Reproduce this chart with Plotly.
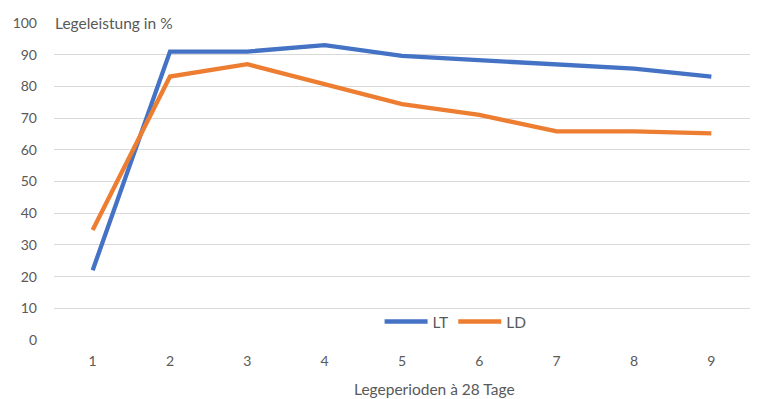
import plotly.graph_objects as go

perioden = [1, 2, 3, 4, 5, 6, 7, 8, 9]
lt_werte = [22, 91, 91, 93, 89.6, 88.3, 87, 85.6, 83.1]
ld_werte = [34.7, 83.1, 87, 80.6, 74.4, 71, 65.8, 65.8, 65.2]
y_ticks = [0, 10, 20, 30, 40, 50, 60, 70, 80, 90, 100]

FONT = "Lato"
GREY = "#595959"

fig = go.Figure()
fig.add_trace(go.Scatter(x=perioden, y=lt_werte, mode="lines", name="LT",
                         line=dict(color="#4472C4", width=4.3)))
fig.add_trace(go.Scatter(x=perioden, y=ld_werte, mode="lines", name="LD",
                         line=dict(color="#ED7D31", width=4.3)))

fig.update_layout(
    width=757, height=399,
    margin=dict(l=54, r=7, t=23, b=59),
    paper_bgcolor="white", plot_bgcolor="white",
    font=dict(family=FONT, size=14, color=GREY),
    showlegend=True,
    legend=dict(orientation="h", x=0.577, xanchor="center", y=0.057, yanchor="middle",
                font=dict(size=15.5, color=GREY), itemwidth=43,
                bgcolor="rgba(0,0,0,0)"),
    xaxis=dict(range=[0.5, 9.5], tickmode="array", tickvals=perioden,
               ticktext=[str(p) for p in perioden], showgrid=False, zeroline=False,
               showline=False, ticks="", ticklabelstandoff=11, automargin=False),
    yaxis=dict(range=[0, 100], tickvals=y_ticks, showgrid=True, gridcolor="#D9D9D9",
               gridwidth=1, zeroline=False, showline=False, ticks="",
               ticklabelstandoff=16, automargin=False),
)

# y-axis caption sits on a white box over the top gridline
fig.add_annotation(text="Legeleistung in %", xref="paper", yref="paper", x=0, y=1,
                   xanchor="left", yanchor="middle", showarrow=False, align="left",
                   width=161, bgcolor="white", borderpad=0,
                   font=dict(size=15.5, color=GREY, family=FONT))

# x-axis caption below the tick labels
fig.add_annotation(text="Legeperioden à 28 Tage", xref="paper", yref="paper",
                   x=0.546, y=-0.155, xanchor="center", yanchor="middle",
                   showarrow=False, font=dict(size=15.5, color=GREY, family=FONT))

fig.write_html("out.html")
